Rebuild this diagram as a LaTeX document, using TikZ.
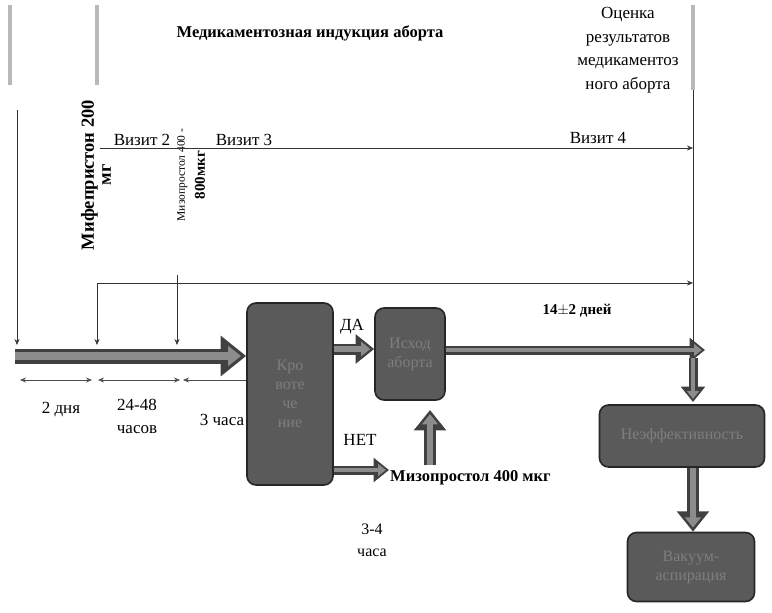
\documentclass[tikz,border=0pt]{standalone}
\usepackage{fontspec}
\setmainfont{Liberation Serif}
\usetikzlibrary{arrows.meta,positioning,calc}
\definecolor{boxfill}{HTML}{5A5A5A}
\definecolor{boxtext}{HTML}{7E7E7E}
\definecolor{barcol}{HTML}{8C8C8C}
\tikzset{
  box/.style={draw=black!85, line width=1.6pt, fill=boxfill, rounded corners=9pt, align=center,
    text=boxtext, font=\fontsize{16}{19}\selectfont, inner sep=2pt},
  thin/.style={draw=black!80, line width=0.6pt, -{Stealth[length=6pt,width=5pt]}},
  dim/.style={draw=black!70, line width=0.6pt, {Stealth[length=6pt,width=5pt]}-{Stealth[length=6pt,width=5pt]}},
  fatarr/.style={draw=black!75, line width=#1, -{Triangle[length=0pt 1.7, width=0pt 2.6]},
    postaction={draw=barcol, line width=0.5*#1, -{Triangle[length=0pt 1.7, width=0pt 2.6]}, shorten >=0.35*#1}},
  lbl/.style={font=\fontsize{17}{20}\selectfont, align=center, inner sep=1pt},
  gbar/.style={draw=gray!55, line width=4pt},
}
\begin{document}
\begin{tikzpicture}[x=1pt, y=-1pt]
  \useasboundingbox (0,0) rectangle (772,613);
  % grey marks at the top
  \draw[gbar] (10,5) -- (10,85);
  \draw[gbar] (97,5) -- (97,85);
  \draw[gbar] (693,5) -- (693,90);
  \node[lbl, font=\bfseries\fontsize{16.5}{20}\selectfont] (title) at (310,33) {Медикаментозная индукция аборта};
  \node[lbl, font=\fontsize{17}{23.5}\selectfont] (assess) at (628,50) {Оценка\\результатов\\медикаментоз\\ного аборта};
  % drugs
  \node[lbl, rotate=90, font=\bfseries\fontsize{18.5}{17}\selectfont] (mife) at (96,175) {Мифепристон 200\\мг};
  \node[lbl, rotate=90, font=\fontsize{11.5}{20}\selectfont] (miso8) at (191,175) {Мизопростол 400 -\\\textbf{\fontsize{15}{20}\selectfont 800мкг}};
  % visits
  \coordinate (v0) at (100,148);
  \coordinate (v1) at (693,148);
  \coordinate (w0) at (97,283);
  \coordinate (w1) at (693,283);
  \draw[thin] (v0) -- (v1);
  \draw[thin] (w0) -- (w1);
  \draw[draw=black!80, line width=0.6pt] (693,90) -- (693,350);
  \node[lbl, above=1pt] (visit2) at (142,148) {Визит 2};
  \node[lbl, above=1pt] (visit3) at (244,148) {Визит 3};
  \node[lbl, above=1pt] (visit4) at (598,146) {Визит 4};
  % boxes
  \node[box, minimum width=86pt, minimum height=182pt] (bleed) at (290,394) {Кро\\воте\\че\\ние};
  \node[box, minimum width=70pt, minimum height=92pt] (exodus) at (410,354) {Исход\\аборта};
  \node[box, minimum width=165pt, minimum height=62pt] (fail) at (682,436) {Неэффективность};
  \node[box, minimum width=127pt, minimum height=69pt] (vacuum) at (691,567) {Вакуум-\\аспирация};
  % main time axis
  \coordinate (start) at (15,356);
  \draw[fatarr=15pt] (start) -- (bleed.west |- start);
  \coordinate (m1) at (17,110);
  \coordinate (m2) at (97,283);
  \coordinate (m3) at (177,275);
  \foreach \m in {m1,m2,m3}
    \draw[thin] (\m) -- (\m |- 0,345);
  % intervals
  \draw[dim] (20,380) -- (92,380);
  \draw[dim] (98,380) -- (180,380);
  \draw[draw=black!70, line width=0.6pt, {Stealth[length=6pt,width=5pt]}-] (183,380) -- (bleed.west |- 0,380);
  \node[lbl] (d1) at (61,410) {2 дня};
  \node[lbl, font=\fontsize{17}{23}\selectfont] (d2) at (137,416) {24-48\\часов};
  \node[lbl] (d3) at (222,420) {3 часа};
  % decision
  \coordinate (yes) at (0,349);
  \draw[fatarr=11pt] (bleed.east |- yes) -- (exodus.west |- yes);
  \node[lbl] (da) at (352,327) {ДА};
  \node[lbl] (net) at (360,440) {НЕТ};
  \node[lbl, font=\bfseries\fontsize{16.5}{20}\selectfont, right] (miso4) at (389,478) {Мизопростол 400 мкг};
  \draw[fatarr=9pt] (bleed.east |- 0,470) -- (miso4.west |- 0,470);
  \coordinate (up) at (430,465);
  \draw[fatarr=12pt] (up) -- (up |- 0,410);
  \node[lbl, font=\fontsize{16}{22}\selectfont] (t34) at (372,540) {3-4\\часа};
  % follow-up
  \coordinate (turn) at (705,350);
  \draw[fatarr=9pt] (exodus.east |- turn) -- (turn);
  \node[lbl, font=\bfseries\fontsize{15}{18}\selectfont] (days) at (577,311) {14$\pm$2 дней};
  \draw[fatarr=9pt] (693,358) -- (693,402);
  \draw[fatarr=12pt] (fail.south -| 693,0) -- (vacuum.north -| 693,0);
\end{tikzpicture}
\end{document}
